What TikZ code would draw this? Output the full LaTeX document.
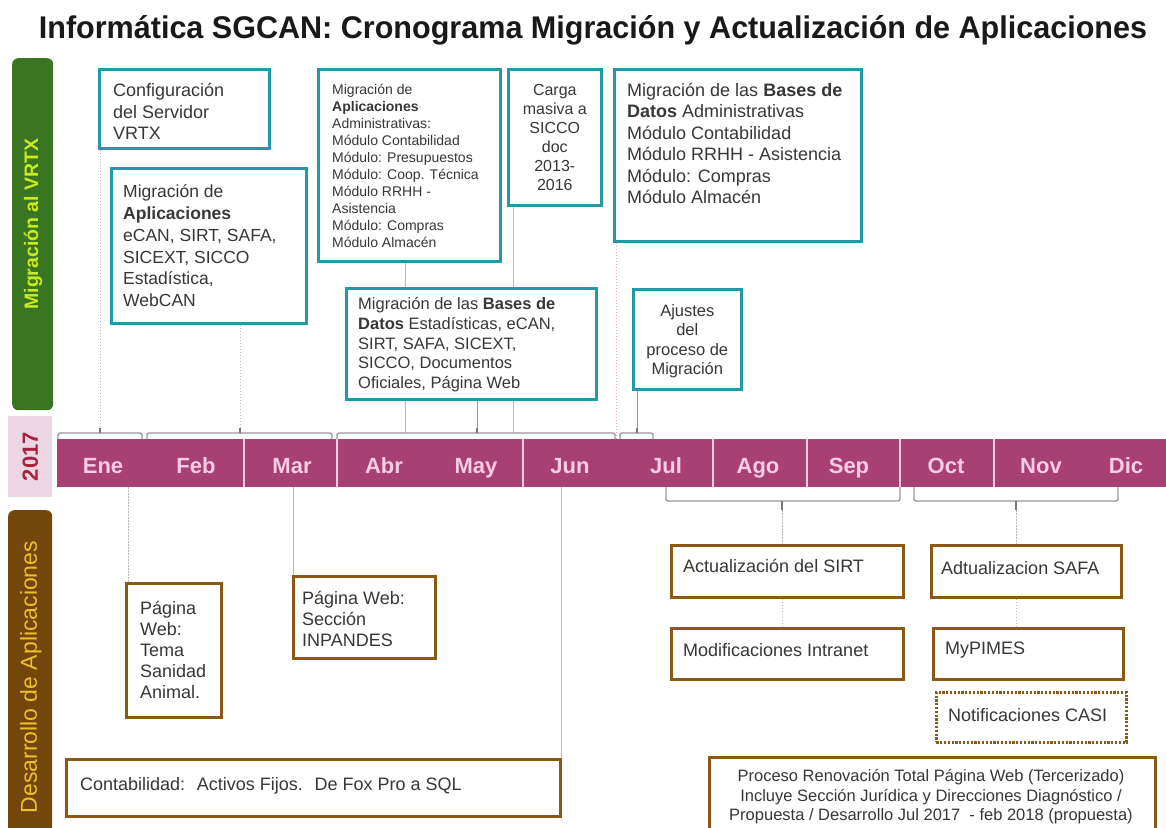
\documentclass[tikz,border=0pt]{standalone}
\usepackage{fontspec}
\setmainfont{Liberation Sans}
\usepackage{graphicx}
\usetikzlibrary{calc}
\definecolor{teal1}{RGB}{35,152,166}
\definecolor{brn}{RGB}{140,88,22}
\definecolor{gbar}{RGB}{58,118,34}
\definecolor{gtext}{RGB}{200,235,30}
\definecolor{bbar}{RGB}{115,70,12}
\definecolor{btext}{RGB}{236,192,40}
\definecolor{tline}{RGB}{168,64,116}
\definecolor{mtext}{RGB}{248,205,228}
\definecolor{pbox}{RGB}{236,214,228}
\definecolor{rtext}{RGB}{172,32,62}
\definecolor{tg}{RGB}{55,55,55}
\definecolor{ttl}{RGB}{25,25,25}
\definecolor{brk}{RGB}{150,150,150}
\definecolor{lg}{RGB}{185,185,185}
\definecolor{pk}{RGB}{225,170,190}
\newcommand{\fsz}[2]{\fontsize{#1}{#2}\selectfont}
\pgfdeclarelayer{back}
\pgfdeclarelayer{lines}
\pgfsetlayers{back,lines,main}
\begin{document}
\begin{tikzpicture}[x=1pt,y=-1pt,
  tb/.style={draw=teal1, line width=2.6pt, fill=white, inner sep=0pt, anchor=north west},
  bb/.style={draw=brn, line width=2.6pt, fill=white, inner sep=0pt, anchor=north west},
  txt/.style={text=tg, inner sep=0pt, align=left},
  ctxt/.style={text=tg, inner sep=0pt, align=center},
  month/.style={text=mtext, font=\bfseries\fsz{22}{26}, anchor=base, inner sep=0pt},
  sepl/.style={draw=mtext, line width=1.2pt},
  bracket/.style={draw=brk, line width=1.3pt, rounded corners=2pt},
  tickc/.style={draw=brk!80!black, line width=1.1pt},
  dotc/.style={draw=lg, line width=1pt, dash pattern=on 1.5pt off 1.5pt},
  thinc/.style={draw=lg, line width=0.8pt},
  darkc/.style={draw=brk, line width=1pt},
  pinkdot/.style={draw=pk, line width=1pt, dash pattern=on 1.5pt off 1.5pt},
]
\useasboundingbox (0,0) rectangle (1166,827);
\begin{pgfonlayer}{back}
\fill[white] (0,0) rectangle (1166,827);
\end{pgfonlayer}

% title
\node[anchor=base, text=ttl, inner sep=0pt] (title) at (593,38)
  {\resizebox{1108pt}{23pt}{\bfseries Informática SGCAN: Cronograma Migración y Actualización de Aplicaciones}};

% left bars
\node[fill=gbar, rounded corners=6pt, minimum width=41pt, minimum height=352pt, anchor=north west, inner sep=0pt] (vrtx) at (12,58) {};
\node[rotate=90, text=gtext, font=\bfseries\fsz{19.5}{22}, inner sep=0pt] (vrtxt) at (33,224) {Migración al VRTX};
\node[fill=pbox, minimum width=44pt, minimum height=81pt, anchor=north west, inner sep=0pt] (yr) at (8,416) {};
\node[rotate=90, text=rtext, font=\bfseries\fsz{22}{24}, inner sep=0pt] (yrt) at (yr.center) {2017};
\node[fill=bbar, rounded corners=6pt, minimum width=44pt, minimum height=340pt, anchor=north west, inner sep=0pt] (dev) at (8,510) {};
\node[rotate=90, text=btext, font=\fsz{23}{25}, inner sep=0pt] (devt) at (31,677) {Desarrollo de Aplicaciones};

% timeline
\node[fill=tline, minimum width=1120pt, minimum height=48pt, anchor=north west, inner sep=0pt] (bar) at (57,439) {};
\foreach \x in {244,337,523,713,807,900,994} \draw[sepl] (\x,439) -- (\x,487);
\foreach \m/\x [count=\i] in {Ene/103,Feb/196,Mar/292,Abr/384,May/476,Jun/570,Jul/666,Ago/758,Sep/849,Oct/946,Nov/1041,Dic/1126}
  \node[month] (mo\i) at (\x,473) {\m};

% brackets above
\draw[bracket] (58,439) -- (58,433) -- (142,433) -- (142,439);
\draw[bracket] (147,439) -- (147,433) -- (332,433) -- (332,439);
\draw[bracket] (337,439) -- (337,433) -- (615,433) -- (615,439);
\draw[bracket] (620,439) -- (620,433) -- (653,433) -- (653,439);
\coordinate (k1) at (100,433);
\coordinate (k2) at (240,433);
\coordinate (k3) at (477,433);
\coordinate (k4) at (637,433);
\coordinate (k5) at (405,433);
\coordinate (k6) at (513,433);
\coordinate (k7) at (616,439);
\foreach \k in {k1,k2,k3,k4} \draw[tickc] (\k) -- ++(0,-5);

% brackets below
\draw[bracket] (666,487) -- (666,501) -- (900,501) -- (900,487);
\draw[bracket] (914,487) -- (914,501) -- (1118,501) -- (1118,487);
\coordinate (m1) at (782,510);
\coordinate (m2) at (1016,510);
\draw[tickc] (782,501) -- (m1);
\draw[tickc] (1016,501) -- (m2);

% top boxes
\node[tb, minimum width=170pt, minimum height=79pt] (cfg) at (98,68) {};
\node[txt, anchor=west, font=\fsz{18}{21.5}] at ([xshift=15pt,yshift=-3pt]cfg.west) {Configuración\\del Servidor\\VRTX};

\node[tb, minimum width=195pt, minimum height=155pt] (mig) at (110,167) {};
\node[txt, anchor=west, font=\fsz{17.5}{21.7}] at ([xshift=13pt]mig.west) {Migración de\\\textbf{Aplicaciones}\\eCAN, SIRT, SAFA,\\SICEXT, SICCO\\Estadística,\\WebCAN};

\node[tb, minimum width=182pt, minimum height=192pt] (adm) at (317,68) {};
\node[txt, anchor=west, font=\fsz{14}{17}] at ([xshift=15pt,yshift=-1pt]adm.west) {Migración de\\\textbf{Aplicaciones}\\Administrativas:\\Módulo Contabilidad\\Módulo: Presupuestos\\Módulo: Coop. Técnica\\Módulo RRHH -\\Asistencia\\Módulo: Compras\\Módulo Almacén};

\node[tb, minimum width=93pt, minimum height=136pt] (carga) at (507,68) {};
\node[ctxt, font=\fsz{16}{19}] at (carga.center) {Carga\\masiva a\\SICCO\\doc\\2013-\\2016};

\node[tb, minimum width=250pt, minimum height=111pt] (best) at (345,287) {};
\node[txt, anchor=west, font=\fsz{16.5}{19.6}] at ([xshift=13pt,yshift=-1pt]best.west) {Migración de las \textbf{Bases de}\\\textbf{Datos} Estadísticas, eCAN,\\SIRT, SAFA, SICEXT,\\SICCO, Documentos\\Oficiales, Página Web};

\node[tb, minimum width=247pt, minimum height=172pt] (badm) at (613,68) {};
\node[txt, anchor=north west, font=\fsz{18}{21.5}] at ([xshift=14pt,yshift=-15pt]badm.north west) {Migración de las \textbf{Bases de}\\\textbf{Datos} Administrativas\\Módulo Contabilidad\\Módulo RRHH - Asistencia\\Módulo: Compras\\Módulo Almacén};

\node[tb, minimum width=108pt, minimum height=100pt] (ajus) at (632,288) {};
\node[ctxt, font=\fsz{16.5}{19.4}] at ([yshift=-2pt]ajus.center) {Ajustes\\del\\proceso de\\Migración};

% bottom boxes
\node[bb, minimum width=95pt, minimum height=134pt] (tema) at (125,582) {};
\node[txt, anchor=west, font=\fsz{18}{21}] at ([xshift=15pt]tema.west) {Página\\Web:\\Tema\\Sanidad\\Animal.};

\node[bb, minimum width=142pt, minimum height=82pt] (inp) at (292,575) {};
\node[txt, anchor=west, font=\fsz{18}{21}] at ([xshift=10pt,yshift=-2pt]inp.west) {Página Web:\\Sección\\INPANDES};

\node[bb, minimum width=494pt, minimum height=57pt] (cont) at (65,758) {};
\node[txt, anchor=west, font=\fsz{18}{21}] at ([xshift=15pt,yshift=2pt]cont.west) {Contabilidad: \ Activos Fijos. \ De Fox Pro a SQL};

\node[bb, minimum width=232pt, minimum height=52pt] (sirt) at (670,544) {};
\node[txt, anchor=west, font=\fsz{18}{21}] at ([xshift=13pt,yshift=5pt]sirt.west) {Actualización del SIRT};

\node[bb, minimum width=190pt, minimum height=52pt] (safa) at (930,544) {};
\node[txt, anchor=west, font=\fsz{18}{21}] at ([xshift=11pt,yshift=3pt]safa.west) {Adtualizacion SAFA};

\node[bb, minimum width=232pt, minimum height=51pt] (intra) at (670,627) {};
\node[txt, anchor=west, font=\fsz{18}{21}] at ([xshift=13pt,yshift=4pt]intra.west) {Modificaciones Intranet};

\node[bb, minimum width=190pt, minimum height=51pt] (mypi) at (932,627) {};
\node[txt, anchor=west, font=\fsz{18}{21}] at ([xshift=13pt,yshift=4pt]mypi.west) {MyPIMES};

\node[bb, line width=2.6pt, dash pattern=on 2.2pt off 1.6pt, minimum width=190pt, minimum height=50pt] (casi) at (935,691) {};
\node[txt, anchor=west, font=\fsz{18}{21}] at ([xshift=13pt,yshift=2pt]casi.west) {Notificaciones CASI};

\node[bb, minimum width=446pt, minimum height=90pt] (proc) at (708,756) {};
\node[ctxt, font=\fsz{16.5}{19.5}] at (931,797) {Proceso Renovación Total Página Web (Tercerizado)\\Incluye Sección Jurídica y Direcciones Diagnóstico /\\Propuesta / Desarrollo Jul 2017 \ - feb 2018 (propuesta)};

% connectors
\begin{pgfonlayer}{lines}
\draw[dotc] (cfg.south -| k1) -- (k1);
\draw[dotc] (mig.south -| k2) -- (k2);
\draw[thinc] (adm.south -| k5) -- (k5);
\draw[darkc] (best.south -| k3) -- (k3);
\draw[thinc] (carga.south -| k6) -- (k6);
\draw[pinkdot] (badm.south -| k7) -- (k7);
\draw[darkc] (ajus.south -| k4) -- (k4);
\coordinate (d1) at (128,487);
\coordinate (d2) at (293,487);
\coordinate (d3) at (561,487);
\draw[dotc] (d1) -- (d1 |- tema.north);
\draw[thinc] (d2) -- (d2 |- inp.north);
\draw[thinc] (d3) -- (d3 |- cont.north);
\draw[dotc] (m1) -- (m1 |- sirt.north);
\draw[dotc] (sirt.south -| m1) -- (intra.north -| m1);
\draw[dotc] (m2) -- (m2 |- safa.north);
\draw[dotc] (safa.south -| m2) -- (mypi.north -| m2);
\end{pgfonlayer}
\end{tikzpicture}
\end{document}
